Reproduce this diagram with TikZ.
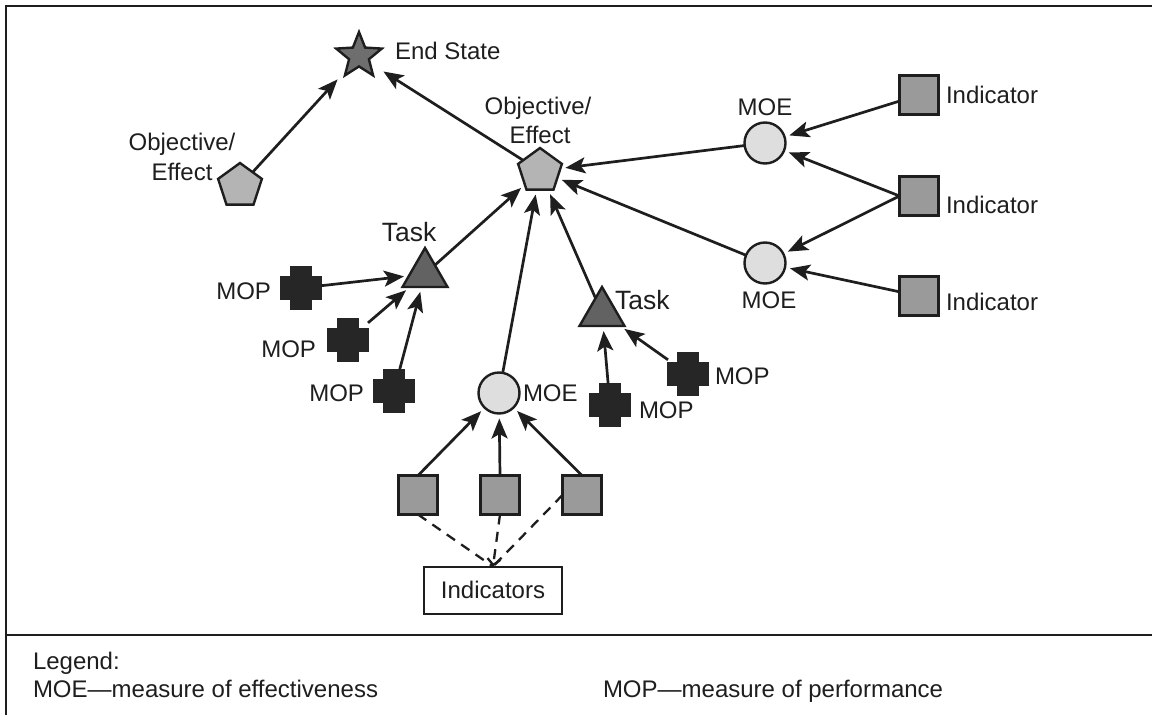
\documentclass[tikz,border=0pt]{standalone}
\usepackage{fontspec}
\setmainfont{Liberation Sans}
\usetikzlibrary{shapes.geometric,arrows.meta}

\definecolor{ink}{HTML}{1E1E1E}
\definecolor{penta}{HTML}{B4B4B4}
\definecolor{stargray}{HTML}{6E6E6E}
\definecolor{taskgray}{HTML}{626262}
\definecolor{moegray}{HTML}{DEDEDE}
\definecolor{indgray}{HTML}{9A9A9A}
\definecolor{mopblack}{HTML}{262626}

\begin{document}
\begin{tikzpicture}[x=1pt,y=-1pt,
  every node/.style={inner sep=0pt, outer sep=0pt, text=ink},
  lbl/.style={font=\fontsize{24}{28}\selectfont},
  biglbl/.style={font=\fontsize{26.5}{30}\selectfont},
  shapeline/.style={draw=ink, line width=2.4},
  objective/.style={shapeline, regular polygon, regular polygon sides=5, minimum size=46, fill=penta},
  endstate/.style={shapeline, star, star points=5, star point ratio=2.3, minimum size=48, fill=stargray},
  taskshape/.style={shapeline, regular polygon, regular polygon sides=3, minimum size=52, fill=taskgray},
  moe/.style={shapeline, circle, minimum size=41, fill=moegray},
  indicator/.style={shapeline, rectangle, minimum size=39, fill=indgray},
  mop/.style={rectangle, minimum width=40, minimum height=42},
  arr/.style={draw=ink, line width=2.7, -{Stealth[length=20,width=16,inset=4.5]}, shorten >=5},
  dashlink/.style={draw=ink, line width=2.3, dash pattern=on 10 off 7.5},
]
\useasboundingbox (0,0) rectangle (1152,715);

% frame and legend divider
\draw[draw=ink, line width=2.6] (6,715) -- (6,6) -- (1152,6);
\draw[draw=ink, line width=2.6] (6,635) -- (1152,635);

% end state and objectives
\node[endstate] (es) at (359,56) {};
\node[lbl, anchor=base west] (esl) at (395,59) {End State};
\node[objective] (obj1) at (240,186) {};
\node[lbl, anchor=base] (obj1a) at (182,150) {Objective/};
\node[lbl, anchor=base] (obj1b) at (182,180) {Effect};
\node[objective] (obj2) at (540,171) {};
\node[lbl, anchor=base] (obj2a) at (538,114) {Objective/};
\node[lbl, anchor=base] (obj2b) at (540,143) {Effect};

% measures of effectiveness
\node[moe] (moe1) at (765,143) {};
\node[lbl, anchor=base] (moe1l) at (765,115) {MOE};
\node[moe] (moe2) at (765,263) {};
\node[lbl, anchor=base] (moe2l) at (769,308) {MOE};
\node[moe] (moe3) at (499,393) {};
\node[lbl, anchor=base west] (moe3l) at (523,401) {MOE};

% indicators on the right
\node[indicator] (ind1) at (919,95) {};
\node[indicator] (ind2) at (919,196) {};
\node[indicator] (ind3) at (919,296) {};
\node[lbl, anchor=base west] (ind1l) at (946,103) {Indicator};
\node[lbl, anchor=base west] (ind2l) at (946,213) {Indicator};
\node[lbl, anchor=base west] (ind3l) at (946,310) {Indicator};

% indicators below the central MOE
\node[indicator] (sq1) at (418,495) {};
\node[indicator] (sq2) at (500,495) {};
\node[indicator] (sq3) at (582,495) {};
\node[lbl, draw=ink, line width=2, minimum width=138, minimum height=47] (box) at (493,590) {Indicators};

% tasks
\node[taskshape] (task1) at (425,274) {};
\node[biglbl, anchor=base] (task1l) at (409,241) {Task};
\node[taskshape] (task2) at (602,313) {};
\node[biglbl, anchor=base west] (task2l) at (615,309) {Task};

% measures of performance
\node[mop] (p1) at (301,288) {};
\node[mop] (p2) at (348,340) {};
\node[mop] (p3) at (394,391) {};
\node[mop] (p4) at (610,405) {};
\node[mop] (p5) at (688,374) {};
\foreach \p in {p1,p2,p3,p4,p5}
  \draw[draw=mopblack, line width=1.5, fill=mopblack] (\p.center) ++(-10,-21) -- ++(20,0) -- ++(0,10)
    -- ++(10,0) -- ++(0,22) -- ++(-10,0) -- ++(0,10) -- ++(-20,0) -- ++(0,-10)
    -- ++(-10,0) -- ++(0,-22) -- ++(10,0) -- cycle;
\node[lbl, anchor=base east] (p1l) at (271,299) {MOP};
\node[lbl, anchor=base east] (p2l) at (316,357) {MOP};
\node[lbl, anchor=base east] (p3l) at (364,401) {MOP};
\node[lbl, anchor=base west] (p4l) at (639,418) {MOP};
\node[lbl, anchor=base west] (p5l) at (715,384) {MOP};

% connectors
\draw[arr, shorten >=13] (obj1) -- (es);
\draw[arr, shorten >=16] (obj2) -- (es);
\draw[arr] (moe1) -- (obj2);
\draw[arr] (moe2) -- (obj2);
\draw[arr] (ind1) -- (moe1);
\draw[arr] (ind2.west) -- (moe1);
\draw[arr] (ind2.west) -- (moe2);
\draw[arr] (ind3) -- (moe2);
\draw[arr] (task1) -- (obj2);
\draw[arr] (moe3) -- (obj2);
\draw[arr] (task2) -- (obj2);
\draw[arr] (p1) -- (task1);
\draw[arr] (p2) -- (task1);
\draw[arr] (p3) -- (task1);
\draw[arr] (p4) -- (task2);
\draw[arr] (p5) -- (task2);
\draw[arr] (sq1.north) -- (moe3);
\draw[arr] (sq2.north) -- (moe3);
\draw[arr] (sq3.north) -- (moe3);

% dashed grouping lines
\draw[dashlink] (sq1.south) -- (box.north);
\draw[dashlink, -{Straight Barb[length=6,width=13]}] (sq2.south) -- (box.north);
\draw[dashlink] (sq3.west) -- (box.north);

% legend
\node[lbl, anchor=base west] (lg) at (33,669) {Legend:};
\node[lbl, anchor=base west] (lg1) at (33,697) {MOE—measure of effectiveness};
\node[lbl, anchor=base west] (lg2) at (603,697) {MOP—measure of performance};
\end{tikzpicture}
\end{document}
